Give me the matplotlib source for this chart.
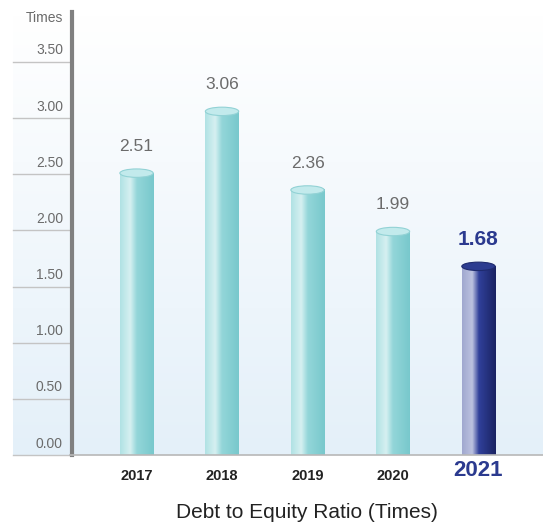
import numpy as np
import matplotlib.pyplot as plt
from matplotlib.colors import LinearSegmentedColormap
from matplotlib.patches import Ellipse
from matplotlib.transforms import blended_transform_factory

years = ["2017", "2018", "2019", "2020", "2021"]
ratios = [2.51, 3.06, 2.36, 1.99, 1.68]
yticks = [0.0, 0.5, 1.0, 1.5, 2.0, 2.5, 3.0, 3.5]
title = "Debt to Equity Ratio (Times)"

FONT = ["Liberation Sans", "DejaVu Sans"]
W, H = 543, 526
fig = plt.figure(figsize=(W / 100, H / 100), dpi=100)

# background gradient (white at top, pale blue at bottom)
bg = fig.add_axes([13 / W, 71 / H, 530 / W, 440 / H], zorder=-1)
grad = np.linspace(0, 1, 256).reshape(-1, 1)
bg_cmap = LinearSegmentedColormap.from_list("bg", ["#ffffff", "#e4f0f9"])
bg.imshow(grad, cmap=bg_cmap, aspect="auto", extent=[0, 1, 0, 1], origin="upper")
bg.axis("off")

ax = fig.add_axes([72 / W, 71 / H, (W - 72) / W, 443 / H])
ax.patch.set_alpha(0)
for s in ["top", "right", "bottom"]:
    ax.spines[s].set_visible(False)
ax.spines["left"].set_color("#808080")
ax.spines["left"].set_linewidth(3)
ax.set_xticks([])
ax.set_yticks([])

cyan = LinearSegmentedColormap.from_list(
    "cyan", [(0, "#b0e2e4"), (0.3, "#d6f0f1"), (0.5, "#93d6d9"), (1, "#78c8cc")])
navy = LinearSegmentedColormap.from_list(
    "navy", [(0, "#a0a8cf"), (0.3, "#bcc2e0"), (0.5, "#30409a"), (1, "#1a2362")])
row = np.linspace(0, 1, 200).reshape(1, -1)

w = 0.39
eh = 0.075
for i, (yr, v) in enumerate(zip(years, ratios)):
    last = i == len(years) - 1
    cm = navy if last else cyan
    ax.imshow(row, cmap=cm, aspect="auto", extent=[i - w / 2, i + w / 2, 0, v], zorder=3)
    ax.add_patch(Ellipse((i, v), w, eh,
                         facecolor="#2c3c90" if last else "#c2eaec",
                         edgecolor="#1e2a6e" if last else "#92d2d5",
                         lw=0.8, zorder=4))
    ax.text(i, v + 0.24, f"{v:.2f}", ha="center", va="center",
            fontsize=15 if last else 12.5,
            fontweight="bold" if last else "normal",
            color="#2b3a8f" if last else "#6b6b6b", family=FONT)
    ax.text(i, -0.14 if last else -0.19, yr, ha="center", va="center",
            fontsize=16 if last else 10.5, fontweight="bold",
            color="#2b3a8f" if last else "#222222", family=FONT)

ax.set_xlim(-0.755, 4.755)
ax.set_ylim(0, 3.945)

# short gridlines and labels left of the axis
tr = blended_transform_factory(fig.transFigure, ax.transData)
for t in yticks:
    ax.plot([13 / W, 70 / W], [t, t], transform=tr, color="#c4c4c4", lw=1, clip_on=False)
    ax.text(63 / W, t + 0.04, f"{t:.2f}", transform=tr, ha="right", va="bottom",
            fontsize=10, color="#6b6b6b", family=FONT)
ax.plot([70 / W, 1], [0, 0], transform=tr, color="#b8b8b8", lw=1.2, clip_on=False, zorder=5)
fig.text(63 / W, 1 - 18 / H, "Times", ha="right", va="center", fontsize=10,
         color="#6b6b6b", family=FONT)

fig.text(307 / W, 1 - 512 / H, title, ha="center", va="center", fontsize=15,
         color="#222222", family=FONT)

fig.savefig("out.png", dpi=100)
